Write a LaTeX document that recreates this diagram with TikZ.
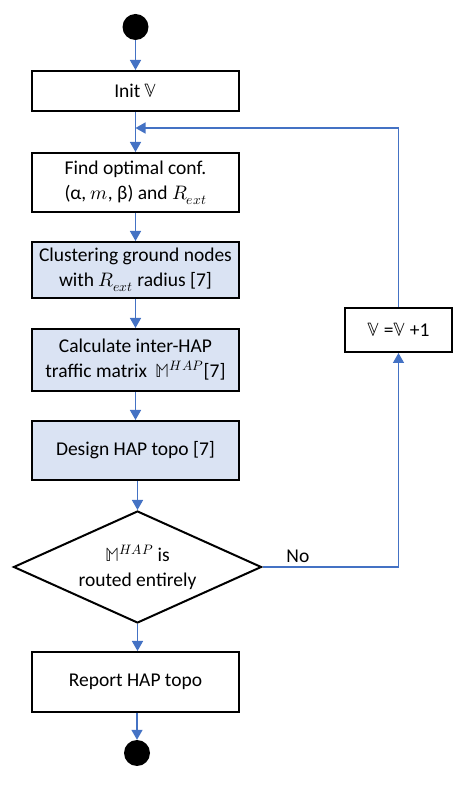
\documentclass[tikz,border=0pt]{standalone}
\usepackage{amsmath}
\usepackage{fontspec}
\usepackage{unicode-math}
\setmainfont{Carlito}
\setmathfont{Latin Modern Math}
\usetikzlibrary{shapes.geometric}
\usetikzlibrary{arrows.meta}
\definecolor{flowblue}{HTML}{4472C4}
\definecolor{stepfill}{HTML}{DAE3F3}
\tikzset{
  procbox/.style={draw=black, line width=2pt, minimum width=207pt, align=center, inner sep=2pt},
  refbox/.style={procbox, fill=stepfill},
  decision/.style={diamond, draw=black, line width=2pt, shape aspect=2.2, minimum width=248pt, minimum height=112pt, inner sep=0pt, align=center},
  terminal/.style={circle, fill=black, minimum size=26pt, inner sep=0pt},
  flow/.style={flowblue, line width=1.5pt, -{Triangle[length=10pt,width=11pt]}}
}

\begin{document}
\begin{tikzpicture}[x=1pt, y=1pt, font=\fontsize{19.5}{25}\selectfont]
\useasboundingbox (0,0) rectangle (474,785);
%main column
\node [terminal] (start) at (135.5,758) {};
\node [procbox, minimum height=40pt] (init) at (135.5,694) {Init $\mathbb{V}$};
\node [procbox, minimum height=59pt] (find) at (135.5,602.5) {Find optimal conf.\\(α, $m$, β) and $R_{ext}$};
\node [refbox, minimum height=56pt] (clust) at (135.5,515) {Clustering ground nodes\\with $R_{ext}$ radius [7]};
\node [refbox, minimum height=62pt] (calc) at (135.5,425) {Calculate inter-HAP\\traffic matrix~ $\mathbb{M}^{HAP}$[7]};
\node [refbox, minimum height=59pt] (design) at (135.5,334.5) {Design HAP topo [7]};
\node [decision] (check) at (137.5,218) {$\mathbb{M}^{HAP}$ is\\routed entirely};
\node [procbox, minimum height=60pt] (report) at (135.5,103) {Report HAP topo};
\node [terminal] (stop) at (137,32) {};
%loop
\node [procbox, minimum width=107pt, minimum height=44pt] (inc) at (398.5,455) {$\mathbb{V}$ =$\mathbb{V}$ +1};
\coordinate (join) at (135.5,657);
\draw [flow] (start) -- (init);
\draw [flow] (init) -- (find);
\draw [flow] (find) -- (clust);
\draw [flow] (clust) -- (calc);
\draw [flow] (calc) -- (design);
\draw [flow] (check.north |- design.south) -- (check.north);
\draw [flow] (check.south) -- (check.south |- report.north);
\draw [flow] (stop.north |- report.south) -- (stop.north);
\draw [flow] (check.east) -| node [pos=0.13, above, black] {No} (inc.south);
\draw [flow] (inc.north) |- (join);
\end{tikzpicture}
\end{document}
